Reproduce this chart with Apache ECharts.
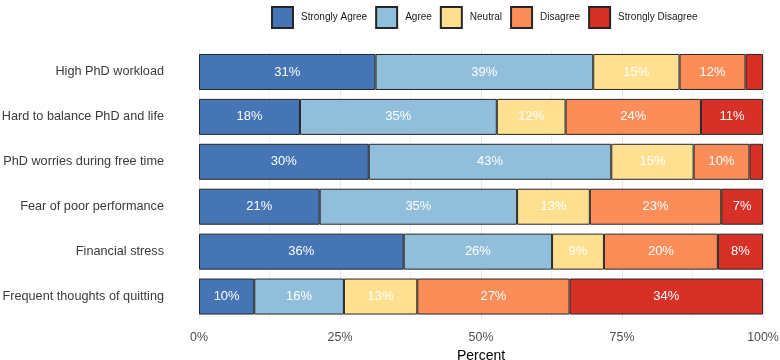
<!DOCTYPE html>
<html>
<head>
<meta charset="utf-8">
<script src="https://cdn.jsdelivr.net/npm/echarts@6/dist/echarts.min.js"></script>
<style>
html, body { margin: 0; padding: 0; background: #fff; }
#chart { width: 780px; height: 360px; }
</style>
</head>
<body>
<div id="chart"></div>
<script>
// survey items, top to bottom
var categories = ['High PhD workload', 'Hard to balance PhD and life', 'PhD worries during free time',
    'Fear of poor performance', 'Financial stress', 'Frequent thoughts of quitting'];
var levels = ['Strongly Agree', 'Agree', 'Neutral', 'Disagree', 'Strongly Disagree'];
var colors = ['#4575B4', '#91BFDB', '#FEE090', '#FC8D59', '#D73027'];

// percent per answer, same order as categories
var stronglyAgree = [31.3, 17.9, 30.1, 21.4, 36.3, 9.8];
var agree = [38.6, 34.9, 43.0, 35.0, 26.3, 15.9];
var neutral = [15.3, 12.2, 14.6, 12.9, 9.2, 13.0];
var disagree = [11.7, 24.0, 9.9, 23.3, 20.2, 27.0];
var stronglyDisagree = [3.1, 11.0, 2.4, 7.4, 8.0, 34.3];

var xTicks = [0, 25, 50, 75, 100];

var seriesData = [stronglyAgree, agree, neutral, disagree, stronglyDisagree];
var font = 'Liberation Sans, Arial, sans-serif';

var series = [];
for (var i = 0; i < levels.length; i++) {
    series.push({
        name : levels[i],
        type : 'bar',
        stack : 'total',
        barWidth : 36,
        data : seriesData[i],
        itemStyle : {
            color : colors[i],
            borderColor : '#262626',
            borderWidth : 1
        },
        label : {
            show : true,
            position : 'inside',
            color : '#ffffff',
            fontSize : 13,
            fontFamily : font,
            formatter : function(p) {
                return p.value >= 5 ? Math.round(p.value) + '%' : '';
            }
        }
    });
}

var chart = echarts.init(document.getElementById('chart'));
chart.setOption({
    animation : false,
    color : colors,
    legend : {
        top : 1,
        left : 266,
        itemWidth : 21,
        itemHeight : 21,
        itemGap : 8,
        icon : 'rect',
        textStyle : {
            fontSize : 10,
            fontFamily : font,
            color : '#1a1a1a',
            padding : [0, 0, 0, 3]
        },
        data : levels
    },
    grid : {
        left : 199,
        right : 17,
        top : 49.5,
        bottom : 41,
        outerBoundsMode : 'none'
    },
    xAxis : {
        type : 'value',
        min : 0,
        max : 100,
        interval : 25,
        name : 'Percent',
        nameLocation : 'middle',
        nameGap : 30,
        nameTextStyle : { fontSize : 14, fontFamily : font, color : '#000' },
        axisLine : { show : false },
        axisTick : { show : false },
        axisLabel : {
            margin : 13,
            fontSize : 12.4,
            fontFamily : font,
            color : '#4d4d4d',
            formatter : function(v) {
                return xTicks.indexOf(v) >= 0 ? v + '%' : '';
            }
        },
        splitLine : { show : true, lineStyle : { color : '#e6e6e6', width : 1 } },
        minorTick : { show : false, splitNumber : 2 },
        minorSplitLine : { show : true, lineStyle : { color : '#f0f0f0', width : 1 } }
    },
    yAxis : {
        type : 'category',
        inverse : true,
        data : categories,
        axisLine : { show : false },
        axisTick : { show : false },
        axisLabel : {
            margin : 35,
            fontSize : 12.7,
            fontFamily : font,
            color : '#3a3a3a'
        },
        splitLine : { show : false }
    },
    series : series
});
</script>
</body>
</html>
